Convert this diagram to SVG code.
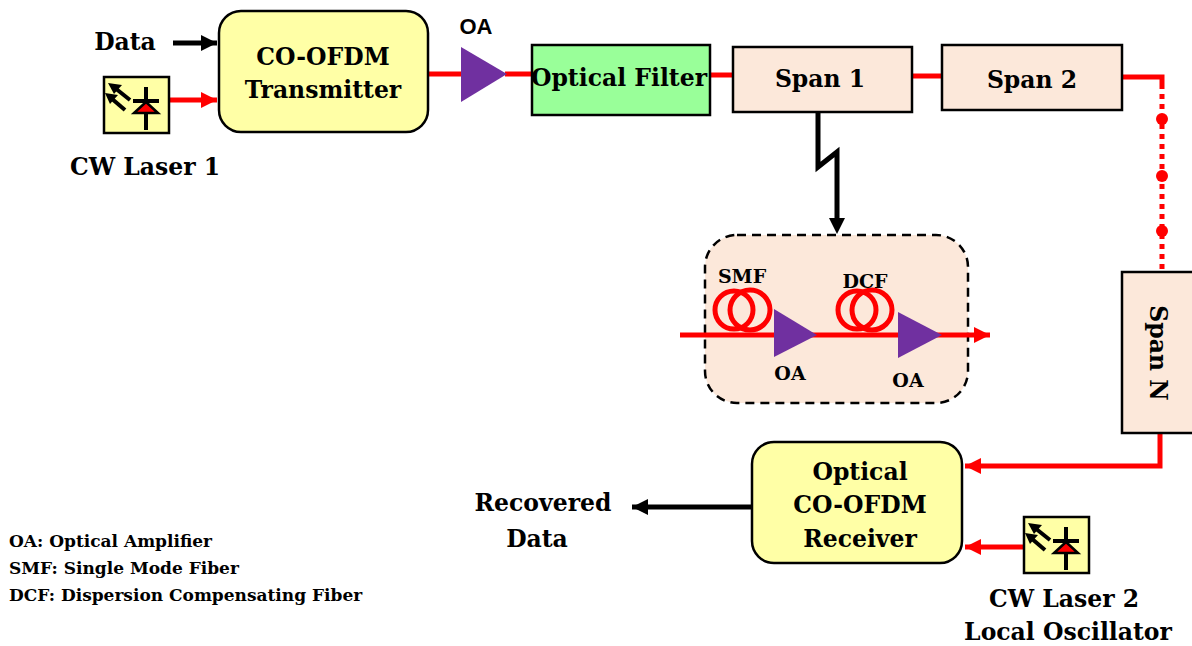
<svg xmlns="http://www.w3.org/2000/svg" xmlns:xlink="http://www.w3.org/1999/xlink" width="1192" height="646" viewBox="0 0 1192 646">
<style>
.t{font-family:"DejaVu Serif","Liberation Serif",serif;font-weight:bold;fill:#000}
.big{font-size:23.5px}
.leg{font-size:17px}
.oa{font-family:"Liberation Sans",Arial,sans-serif;font-weight:bold;font-size:22px}
.red{stroke:#ff0000;stroke-width:5;fill:none}
.blk{stroke:#000;stroke-width:5;fill:none}
.yel{fill:#ffffa6;stroke:#000;stroke-width:2.5}
.span{fill:#fce8da;stroke:#000;stroke-width:2.5}
.amp{fill:#7030a0}
.coil{fill:none;stroke:#ff0000;stroke-width:5}
</style>
<defs>
<marker id="ahR" markerUnits="userSpaceOnUse" markerWidth="20" markerHeight="20" refX="16" refY="8" orient="auto">
<path d="M0,0 L16,8 L0,16 Z" fill="#ff0000"/>
</marker>
<marker id="ahK" markerUnits="userSpaceOnUse" markerWidth="20" markerHeight="20" refX="16" refY="8" orient="auto">
<path d="M0,0 L16,8 L0,16 Z" fill="#000"/>
</marker>
<g id="laser">
<rect x="0" y="0" width="65" height="56" class="yel"/>
<line x1="42" y1="10" x2="42" y2="53" stroke="#000" stroke-width="4"/>
<line x1="29" y1="24" x2="55" y2="24" stroke="#000" stroke-width="4"/>
<path d="M30,36 L54,36 L42,25 Z" fill="#ff0000" stroke="#000" stroke-width="2.5"/>
<path d="M26,23 L11,11" stroke="#000" stroke-width="4" fill="none"/>
<path d="M4,6 L18,8 L10,17 Z" fill="#000"/>
<path d="M21,33 L7,21" stroke="#000" stroke-width="4" fill="none"/>
<path d="M1,16 L14,18 L6,27 Z" fill="#000"/>
</g>
</defs>
<rect width="1192" height="646" fill="#fff"/>

<g id="connectors">
<line x1="173" y1="43" x2="217" y2="43" class="blk" stroke-width="4.5" marker-end="url(#ahK)"/>
<line x1="169" y1="100" x2="217" y2="100" class="red" marker-end="url(#ahR)"/>
<line x1="428" y1="74" x2="462" y2="74" class="red"/>
<line x1="505" y1="74" x2="532" y2="74" class="red"/>
<line x1="710" y1="75" x2="733" y2="75" class="red"/>
<line x1="912" y1="76" x2="942" y2="76" class="red"/>
<polyline points="1122,77 1162,77 1162,84" class="red"/>
<line x1="1162" y1="84" x2="1162" y2="272" stroke="#ff0000" stroke-width="5" stroke-dasharray="5,5"/>
<circle cx="1162" cy="119" r="6" fill="#ff0000"/>
<circle cx="1162" cy="176" r="6" fill="#ff0000"/>
<circle cx="1162" cy="231" r="6" fill="#ff0000"/>
<polyline points="1160,433 1160,466 965,466" class="red" marker-end="url(#ahR)"/>
<line x1="1024" y1="547" x2="965" y2="547" class="red" marker-end="url(#ahR)"/>
<line x1="752" y1="507" x2="632" y2="507" class="blk" marker-end="url(#ahK)"/>
<polyline points="818,112 818,167 837,152 837,220" class="blk" stroke-width="4.5"/>
<path d="M829,218 L845,218 L837,234 Z" fill="#000"/>
</g>

<g id="cw-laser-1">
<use xlink:href="#laser" x="104" y="77"/>
<text class="t big" x="145" y="175" text-anchor="middle">CW Laser 1</text>
</g>
<g id="data-in">
<text class="t big" x="125" y="50" text-anchor="middle">Data</text>
</g>
<g id="transmitter">
<rect x="219" y="11" width="209" height="121" rx="22" class="yel"/>
<text class="t big" x="323" y="65" text-anchor="middle">CO-OFDM</text>
<text class="t big" x="323" y="98" text-anchor="middle">Transmitter</text>
</g>
<g id="oa-1">
<path d="M461,47 L507,74 L461,102 Z" class="amp"/>
<text class="oa" x="476" y="34" text-anchor="middle">OA</text>
</g>
<g id="optical-filter">
<rect x="532" y="45" width="178" height="70" fill="#99ff99" stroke="#000" stroke-width="2.5"/>
<text class="t big" x="619" y="86" text-anchor="middle">Optical Filter</text>
</g>
<g id="span-1">
<rect x="733" y="47" width="179" height="65" class="span"/>
<text class="t big" x="820" y="87" text-anchor="middle">Span 1</text>
</g>
<g id="span-2">
<rect x="942" y="45" width="180" height="65" class="span"/>
<text class="t big" x="1032" y="88" text-anchor="middle">Span 2</text>
</g>
<g id="span-n">
<rect x="1122" y="272" width="80" height="161" class="span"/>
<text class="t big" transform="translate(1150,353) rotate(90)" text-anchor="middle">Span N</text>
</g>
<g id="span-detail">
<rect x="705" y="235" width="263" height="168" rx="32" fill="#fce8da" stroke="#000" stroke-width="2.5" stroke-dasharray="9,6"/>
<line x1="680" y1="335" x2="990" y2="335" class="red" marker-end="url(#ahR)"/>
<circle cx="734" cy="310" r="19" class="coil"/>
<circle cx="750" cy="310" r="20" class="coil"/>
<text class="t" font-size="19" x="742" y="283" text-anchor="middle">SMF</text>
<path d="M774,309 L817,335 L774,357 Z" class="amp"/>
<text class="t" font-size="19" x="790" y="380" text-anchor="middle">OA</text>
<circle cx="857" cy="310" r="19" class="coil"/>
<circle cx="872" cy="310" r="20" class="coil"/>
<text class="t" font-size="19" x="865" y="288" text-anchor="middle">DCF</text>
<path d="M898,312 L942,335 L898,358 Z" class="amp"/>
<text class="t" font-size="19" x="908" y="387" text-anchor="middle">OA</text>
</g>
<g id="receiver">
<rect x="752" y="442" width="210" height="121" rx="22" class="yel"/>
<text class="t big" x="860" y="480" text-anchor="middle">Optical</text>
<text class="t big" x="860" y="513" text-anchor="middle">CO-OFDM</text>
<text class="t big" x="860" y="547" text-anchor="middle">Receiver</text>
</g>
<g id="recovered-data">
<text class="t big" x="543" y="511" text-anchor="middle">Recovered</text>
<text class="t big" x="537" y="547" text-anchor="middle">Data</text>
</g>
<g id="cw-laser-2">
<use xlink:href="#laser" x="1024" y="517"/>
<text class="t big" x="1064" y="607" text-anchor="middle">CW Laser 2</text>
<text class="t big" x="1068" y="640" text-anchor="middle">Local Oscillator</text>
</g>
<g id="legend">
<text class="t leg" x="9" y="547">OA: Optical Amplifier</text>
<text class="t leg" x="9" y="574">SMF: Single Mode Fiber</text>
<text class="t leg" x="9" y="601">DCF: Dispersion Compensating Fiber</text>
</g>
</svg>
